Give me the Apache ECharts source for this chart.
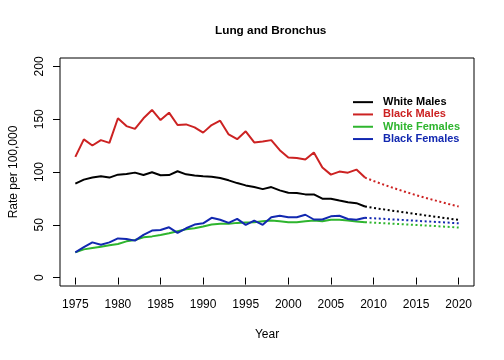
<!DOCTYPE html>
<html>
<head>
<meta charset="utf-8">
<script src="https://cdn.jsdelivr.net/npm/echarts@6/dist/echarts.min.js"></script>
<style>
html,body{margin:0;padding:0;background:#fff;}
#chart{width:504px;height:360px;}
</style>
</head>
<body>
<div id="chart"></div>
<script>
// Observed years (solid) and projection years (dotted)
const obsYears = [1975,1976,1977,1978,1979,1980,1981,1982,1983,1984,1985,1986,1987,1988,1989,1990,1991,1992,1993,1994,1995,1996,1997,1998,1999,2000,2001,2002,2003,2004,2005,2006,2007,2008,2009];
const projYears = [2009,2010,2011,2012,2013,2014,2015,2016,2017,2018,2019,2020];

const whiteMales = [89.0,92.8,94.7,95.9,94.7,97.5,98.1,99.4,97.1,99.7,96.9,97.1,100.7,97.8,96.6,95.9,95.6,94.3,92.1,89.5,87.3,85.7,83.8,85.7,82.6,80.4,80.0,78.8,78.8,74.7,74.7,73.0,71.4,70.5,67.3];
const blackMales = [114.3,130.9,125.1,130.2,127.6,150.9,143.5,140.9,150.9,158.8,149.2,156.2,144.5,145.1,142.3,137.3,144.5,148.6,135.6,131.1,138.5,128.0,128.8,130.2,120.7,113.7,113.3,111.8,118.5,104.2,97.5,100.4,99.4,102.3,94.7];
const whiteFemales = [23.8,26.7,28.0,29.2,30.5,31.8,34.3,35.6,38.1,39.0,40.4,41.9,43.8,45.7,46.7,48.3,50.2,50.9,50.9,51.8,52.1,52.4,53.3,54.0,53.3,52.4,52.4,53.3,54.0,53.3,54.7,54.7,54.0,53.0,52.4];
const blackFemales = [23.8,28.8,33.3,31.1,33.3,37.1,36.6,35.0,40.4,44.5,45.1,47.6,42.3,46.7,50.2,51.4,56.6,54.8,51.8,55.6,49.9,54.0,50.0,57.1,58.5,57.1,57.1,59.5,55.0,55.0,58.0,58.5,55.5,54.7,56.6];

const whiteMalesProj = [67.3,66.0,64.8,63.6,62.5,61.3,60.2,59.0,57.9,56.8,55.7,54.6];
const blackMalesProj = [94.7,91.5,88.6,85.8,83.1,80.5,78.1,75.8,73.6,71.4,69.3,67.3];
const whiteFemalesProj = [52.4,52.0,51.6,51.2,50.7,50.3,49.8,49.3,48.9,48.4,47.9,47.4];
const blackFemalesProj = [56.6,56.1,55.7,55.2,54.8,54.3,53.8,53.3,52.9,52.4,51.9,51.4];

const xTicks = [1975,1980,1985,1990,1995,2000,2005,2010,2015,2020];
const yTicks = [0,50,100,150,200];

const names = ['White Males','Black Males','White Females','Black Females'];
const colors = ['#000000','#CC2222','#2EB52E','#1228B0'];
const obsSets = [whiteMales, blackMales, whiteFemales, blackFemales];
const projSets = [whiteMalesProj, blackMalesProj, whiteFemalesProj, blackFemalesProj];

const FONT = 'Liberation Sans, Arial, Helvetica, sans-serif';

function pairs(xs, ys){ return xs.map((x,i)=>[x, ys[i]]); }

const series = [];
names.forEach((n,i)=>{
  series.push({
    name: n, type: 'line', data: pairs(obsYears, obsSets[i]),
    showSymbol: false, symbol: 'none', color: colors[i],
    lineStyle: {color: colors[i], width: 2}, z: 3
  });
});
names.forEach((n,i)=>{
  series.push({
    name: n + ' (projected)', type: 'line', data: pairs(projYears, projSets[i]),
    showSymbol: false, symbol: 'none', color: colors[i],
    lineStyle: {color: colors[i], width: 2, type: [2, 2.6]}, z: 2
  });
});

const chart = echarts.init(document.getElementById('chart'), null, {renderer: 'canvas'});
chart.setOption({
  animation: false,
  backgroundColor: '#ffffff',
  title: {
    text: 'Lung and Bronchus',
    left: 210, top: 20,
    textStyle: {fontFamily: FONT, fontSize: 11.8, fontWeight: 'bold', color: '#000'}
  },
  legend: {
    data: names.map((n,i)=>({name: n, textStyle: {color: colors[i]}})),
    orient: 'vertical', left: 348, top: 91,
    icon: 'rect', itemWidth: 20, itemHeight: 2, itemGap: 0,
    selectedMode: false,
    textStyle: {fontFamily: FONT, fontSize: 11, fontWeight: 'bold', lineHeight: 12.3, padding: [0,0,0,5]}
  },
  grid: {left: 59, right: 30, top: 58, bottom: 74, show: true, borderColor: '#000', borderWidth: 1, backgroundColor: 'transparent'},
  xAxis: {
    type: 'value', min: 1973.2, max: 2021.8,
    name: 'Year', nameLocation: 'middle', nameGap: 43,
    nameTextStyle: {fontFamily: FONT, fontSize: 12, color: '#000'},
    axisLine: {show: false},
    axisTick: {show: true, customValues: xTicks, length: 7, lineStyle: {color: '#000'}},
    axisLabel: {customValues: xTicks, formatter: v => String(v), fontFamily: FONT, fontSize: 12, color: '#000', margin: 13},
    splitLine: {show: false}
  },
  yAxis: {
    type: 'value', min: -8, max: 208,
    name: 'Rate per 100,000', nameLocation: 'middle', nameGap: 40,
    nameTextStyle: {fontFamily: FONT, fontSize: 12, color: '#000'},
    axisLine: {show: false},
    axisTick: {show: true, customValues: yTicks, length: 7, lineStyle: {color: '#000'}},
    axisLabel: {customValues: yTicks, formatter: v => String(v), rotate: 90, fontFamily: FONT, fontSize: 12, color: '#000', margin: 14},
    splitLine: {show: false}
  },
  series: series
});
</script>
</body>
</html>
